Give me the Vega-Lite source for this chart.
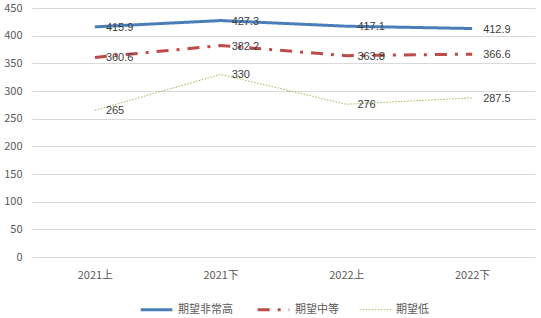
{
  "$schema": "https://vega.github.io/schema/vega-lite/v6.json",
  "width": 503,
  "height": 249,
  "autosize": "none",
  "padding": {"left": 32, "top": 8, "right": 6, "bottom": 61},
  "background": "white",
  "config": {
    "view": {"stroke": null},
    "font": "Noto Sans CJK SC",
    "axis": {"labelFont": "Noto Sans CJK SC", "labelColor": "#595959", "labelFontSize": 11},
    "legend": {"layout": {"bottom": {"anchor": "middle"}}}
  },
  "data": {
    "values": [
      {"period": "2021上", "series": "期望非常高", "value": 415.9},
      {"period": "2021下", "series": "期望非常高", "value": 427.3},
      {"period": "2022上", "series": "期望非常高", "value": 417.1},
      {"period": "2022下", "series": "期望非常高", "value": 412.9},
      {"period": "2021上", "series": "期望中等", "value": 360.6},
      {"period": "2021下", "series": "期望中等", "value": 382.2},
      {"period": "2022上", "series": "期望中等", "value": 363.8},
      {"period": "2022下", "series": "期望中等", "value": 366.6},
      {"period": "2021上", "series": "期望低", "value": 265},
      {"period": "2021下", "series": "期望低", "value": 330},
      {"period": "2022上", "series": "期望低", "value": 276},
      {"period": "2022下", "series": "期望低", "value": 287.5}
    ]
  },
  "encoding": {
    "x": {
      "field": "period", "type": "ordinal", "title": null,
      "sort": ["2021上", "2021下", "2022上", "2022下"],
      "scale": {"paddingInner": 0, "paddingOuter": 0},
      "axis": {"labelAngle": 0, "domain": false, "ticks": false, "labelPadding": 12}
    },
    "y": {
      "field": "value", "type": "quantitative", "title": null,
      "scale": {"domain": [0, 450], "nice": false},
      "axis": {"values": [0, 50, 100, 150, 200, 250, 300, 350, 400, 450], "domain": false, "ticks": false, "gridColor": "#d9d9d9", "labelPadding": 10}
    }
  },
  "layer": [
    {
      "mark": {"type": "line"},
      "encoding": {
        "color": {
          "field": "series", "type": "nominal", "title": null,
          "sort": ["期望非常高", "期望中等", "期望低"],
          "scale": {"domain": ["期望非常高", "期望中等", "期望低"], "range": ["#4a7ebb", "#be4b48", "#9bbb59"]},
          "legend": {"orient": "bottom", "direction": "horizontal", "symbolType": "stroke", "symbolSize": 1000, "labelFont": "Noto Sans CJK SC", "labelFontSize": 11, "labelColor": "#595959", "columnPadding": 18, "offset": 12}
        },
        "strokeDash": {
          "field": "series", "type": "nominal", "title": null,
          "sort": ["期望非常高", "期望中等", "期望低"],
          "scale": {"domain": ["期望非常高", "期望中等", "期望低"], "range": [[1, 0], [12, 8, 3, 8], [1.5, 1.5]]}
        },
        "strokeWidth": {
          "field": "series", "type": "nominal", "title": null,
          "sort": ["期望非常高", "期望中等", "期望低"],
          "scale": {"type": "ordinal", "domain": ["期望非常高", "期望中等", "期望低"], "range": [3, 3, 1]}
        }
      }
    },
    {
      "mark": {"type": "text", "align": "left", "baseline": "middle", "dx": 11, "dy": 1, "fontSize": 11, "color": "#404040", "font": "Liberation Sans"},
      "encoding": {
        "text": {"field": "value", "type": "quantitative"},
        "detail": {"field": "series"}
      }
    }
  ]
}
